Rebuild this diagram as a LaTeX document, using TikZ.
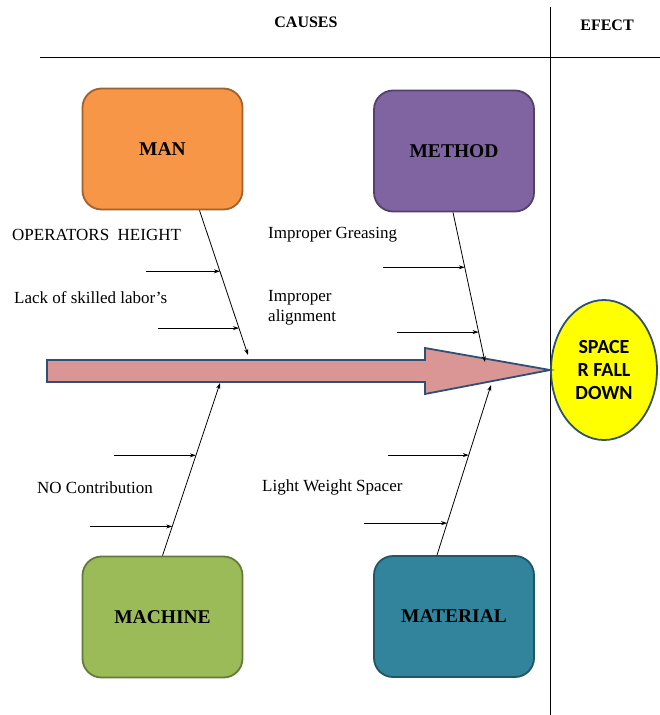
\documentclass[tikz,border=0pt]{standalone}
\usepackage{fontspec}
\setmainfont{Liberation Serif}
\newfontfamily\calibfont{Carlito}
\usetikzlibrary{arrows.meta,shapes.geometric,calc,positioning}

\definecolor{manfill}{HTML}{F79646}
\definecolor{methodfill}{HTML}{8064A2}
\definecolor{machinefill}{HTML}{9BBB59}
\definecolor{materialfill}{HTML}{31849B}
\definecolor{spinefill}{HTML}{D99694}
\definecolor{spineline}{HTML}{2F4F74}
\definecolor{effectfill}{HTML}{FFFF00}

\begin{document}
\begin{tikzpicture}[x=1pt, y=-1pt,
    cause/.style={rectangle, draw=#1!65!black, fill=#1, line width=1.8pt, rounded corners=19pt, minimum width=160pt, minimum height=121pt, font=\fontsize{19.5}{22}\selectfont\bfseries},
    bone/.style={-{Stealth[length=6pt,width=4pt]}, line width=0.8pt},
    twig/.style={-{Stealth[length=6pt,width=4pt]}, line width=0.8pt},
    reason/.style={anchor=west, inner sep=0pt, align=left, font=\fontsize{17}{20}\selectfont},
    header/.style={font=\fontsize{16}{18}\selectfont\bfseries}
]
\useasboundingbox (0,0) rectangle (660,715);

% Header
\node[header] (causes) at (306,22) {CAUSES};
\node[header] (efect) at (607,25) {EFECT};
\draw[line width=1pt] (40,57) -- (660,57);
\draw[line width=1pt] (550,7) -- (550,715);

% Cause boxes
\node[cause=manfill] (man) at (162.5,149) {MAN};
\node[cause=methodfill] (method) at (454,151) {METHOD};
\node[cause=machinefill] (machine) at (162.5,617) {MACHINE};
\node[cause=materialfill] (material) at (454,616.5) {MATERIAL};

% Effect
\node[ellipse, draw=spineline, fill=effectfill, line width=1.8pt, minimum width=106pt, minimum height=140pt, align=center, font=\calibfont\fontsize{20}{23}\selectfont\bfseries] (effect) at (604,370) {SPACE\\R FALL\\DOWN};

% Main spine
\draw[line width=1.8pt, draw=spineline, fill=spinefill] (47,360) -- (425,360) -- (425,348) -- (effect.west) -- (425,394) -- (425,382) -- (47,382) -- cycle;

% Bones
\coordinate (manTop) at ($(man.south)+(37,0)$);
\coordinate (manTip) at (248,355);
\coordinate (methodTop) at ($(method.south)+(-1,0)$);
\coordinate (methodTip) at (485,362);
\coordinate (machineBot) at (machine.north);
\coordinate (machineTip) at (220,383);
\coordinate (materialBot) at ($(material.north)+(-17,0)$);
\coordinate (materialTip) at (491,385);

\draw[bone] (manTop) -- (manTip);
\draw[bone] (methodTop) -- (methodTip);
\draw[bone] (machineBot) -- (machineTip);
\draw[bone] (materialBot) -- (materialTip);

% Sub causes
\coordinate (m1) at ($(manTop)!0.421!(manTip)$);
\coordinate (m2) at ($(manTop)!0.814!(manTip)$);
\coordinate (m1s) at ($(m1)+(-74,0)$);
\coordinate (m2s) at ($(m2)+(-81,0)$);
\draw[twig] (m1s) -- (m1);
\draw[twig] (m2s) -- (m2);

\coordinate (d1) at ($(methodTop)!0.367!(methodTip)$);
\coordinate (d2) at ($(methodTop)!0.8!(methodTip)$);
\coordinate (d1s) at ($(d1)+(-82,0)$);
\coordinate (d2s) at ($(d2)+(-82,0)$);
\draw[twig] (d1s) -- (d1);
\draw[twig] (d2s) -- (d2);

\coordinate (c1) at ($(machineBot)!0.581!(machineTip)$);
\coordinate (c2) at ($(machineBot)!0.169!(machineTip)$);
\coordinate (c1s) at ($(c1)+(-82,0)$);
\coordinate (c2s) at ($(c2)+(-82,0)$);
\draw[twig] (c1s) -- (c1);
\draw[twig] (c2s) -- (c2);

\coordinate (t1) at ($(materialBot)!0.588!(materialTip)$);
\coordinate (t2) at ($(materialBot)!0.188!(materialTip)$);
\coordinate (t1s) at ($(t1)+(-81,0)$);
\coordinate (t2s) at ($(t2)+(-83,0)$);
\draw[twig] (t1s) -- (t1);
\draw[twig] (t2s) -- (t2);

% Labels
\node[reason] (height) at (12,235) {OPERATORS~~HEIGHT};
\node[reason] (skill) at (14,298) {Lack of skilled labor's};
\node[reason] (grease) at (268,235) {Improper Greasing};
\node[reason] (align) at (268,308) {Improper\\alignment};
\node[reason] (contrib) at (37,488) {NO Contribution};
\node[reason] (spacer) at (262,487) {Light Weight Spacer};

\end{tikzpicture}
\end{document}
